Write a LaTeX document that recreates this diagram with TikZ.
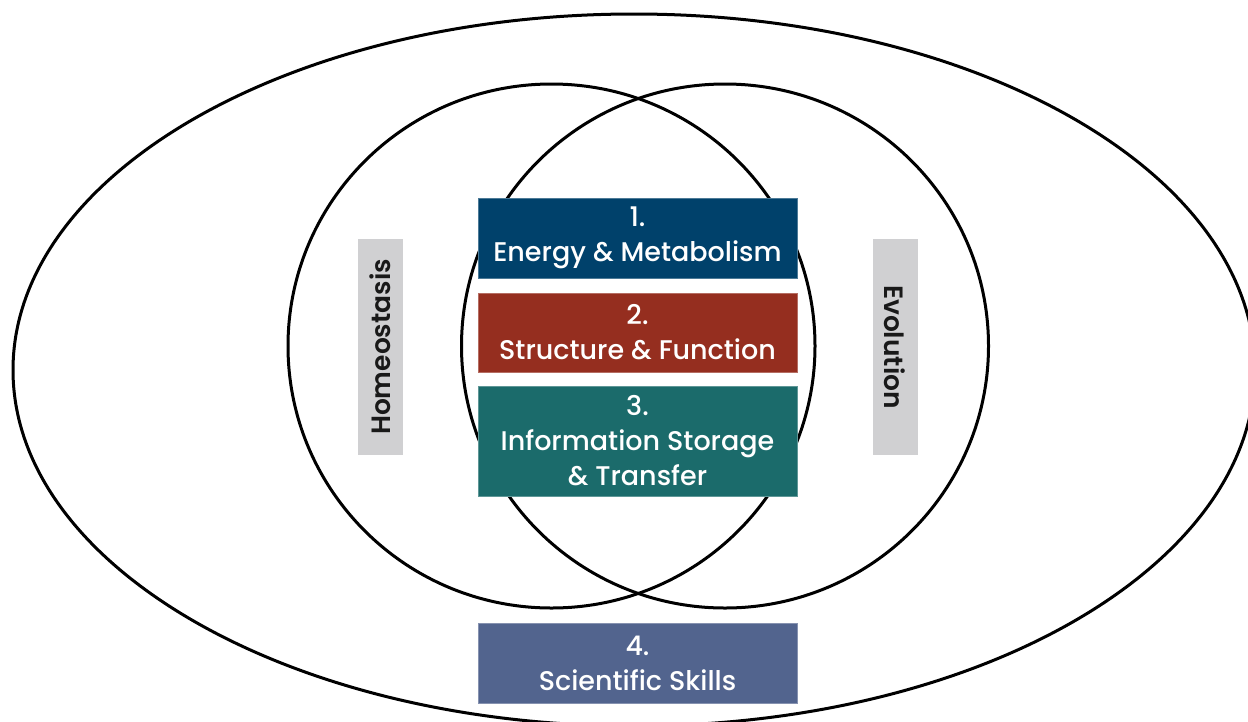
\documentclass[tikz,border=0pt]{standalone}
\usepackage{fontspec}
\setmainfont{Poppins}[UprightFont=* Medium]
\newfontfamily\barfont{Poppins}[UprightFont=* SemiBold]
\definecolor{cblue}{HTML}{00416B}
\definecolor{cred}{HTML}{952E1F}
\definecolor{cteal}{HTML}{1B6B6B}
\definecolor{cslate}{HTML}{52648E}
\definecolor{cgray}{HTML}{D0D0D2}
\tikzset{
  ring/.style={draw=black, line width=3pt},
  topic/.style={minimum width=319pt, inner sep=0pt, align=center, text=white,
    font=\fontsize{27}{35}\selectfont},
  bar/.style={fill=cgray, minimum width=216pt, minimum height=45pt, inner sep=0pt,
    text=black!90, font=\barfont\fontsize{26.5}{28}\selectfont}
}
\begin{document}
\begin{tikzpicture}[x=1pt,y=-1pt]
\useasboundingbox (0,0) rectangle (1248,721);
\clip (0,0) rectangle (1248,721);
\fill[white] (0,0) rectangle (1248,721);
\draw[ring] (634,370) ellipse [x radius=621pt, y radius=356pt];
\draw[ring] (551.5,346) ellipse [x radius=263.5pt, y radius=262pt];
\draw[ring] (725,346) ellipse [x radius=263.5pt, y radius=262pt];
\node[topic, fill=cblue, draw=cblue!70!white, minimum height=80pt] (t1) at (637.5,238) {1.\\Energy \& Metabolism};
\node[topic, fill=cred, draw=cred!70!white, minimum height=79pt] (t2) at (637.5,332.5) {2.\\Structure \& Function};
\node[topic, fill=cteal, draw=cteal!70!white, minimum height=110pt] (t3) at (637.5,441) {3.\\Information Storage\\\& Transfer};
\node[topic, fill=cslate, draw=cslate!70!white, minimum height=80pt] (t4) at (637.5,663) {4.\\Scientific Skills};
\node[bar, rotate=90] (home) at (380.5,347) {Homeostasis};
\node[bar, rotate=-90] (evo) at (895,347) {Evolution};
\end{tikzpicture}
\end{document}
